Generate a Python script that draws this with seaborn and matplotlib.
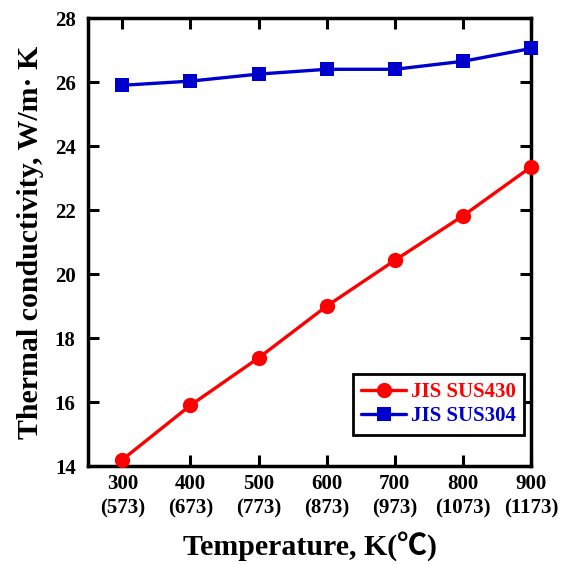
import matplotlib
matplotlib.use("Agg")
import matplotlib.pyplot as plt
import seaborn as sns
import pandas as pd

temps_K = [300, 400, 500, 600, 700, 800, 900]
temps_C = [573, 673, 773, 873, 973, 1073, 1173]
sus430 = [14.2, 15.9, 17.38, 19.0, 20.43, 21.82, 23.35]
sus304 = [25.9, 26.03, 26.25, 26.4, 26.4, 26.65, 27.05]
yticks = [14, 16, 18, 20, 22, 24, 26, 28]

sns.set_theme(style="ticks")
plt.rcParams['font.family'] = ['Liberation Serif', 'Noto Sans CJK JP', 'DejaVu Sans']
plt.rcParams['font.weight'] = 'bold'
plt.rcParams['text.color'] = 'black'
plt.rcParams['axes.labelcolor'] = 'black'

fig = plt.figure(figsize=(5.62, 5.65), dpi=100)
ax = fig.add_axes([0.157, 0.175, 0.788, 0.793])

df430 = pd.DataFrame({"T": temps_K, "k": sus430})
df304 = pd.DataFrame({"T": temps_K, "k": sus304})
sns.lineplot(data=df430, x="T", y="k", ax=ax, color="#ff0000", marker="o",
             markersize=11, markeredgewidth=0, linewidth=2.4, label="JIS SUS430", clip_on=False, zorder=3)
sns.lineplot(data=df304, x="T", y="k", ax=ax, color="#0000cc", marker="s",
             markersize=10.5, markeredgewidth=0, linewidth=2.4, label="JIS SUS304", clip_on=False, zorder=3)

ax.set_xlim(250, 900)
ax.set_ylim(14, 28)
ax.set_xticks(temps_K)
ax.set_xticklabels([f"{k}\n({c})" for k, c in zip(temps_K, temps_C)], fontsize=15,
                   fontweight='bold', linespacing=1.3)
ax.set_yticks(yticks)
ax.set_yticklabels([str(v) for v in yticks], fontsize=15, fontweight='bold')
ax.tick_params(direction='in', length=8, width=2.2, top=True, right=True, colors='black', pad=6)
ax.tick_params(axis='y', pad=9)
for s in ax.spines.values():
    s.set_linewidth(2.5)
    s.set_color('black')
    s.set_visible(True)

ax.set_xlabel("Temperature, K(℃)", fontsize=21.5, fontweight='bold', labelpad=9, color='black')
ax.set_ylabel("Thermal conductivity, W/m· K", fontsize=21.5, fontweight='bold', labelpad=8, color='black')

leg = ax.legend(loc='lower right', bbox_to_anchor=(0.985, 0.07), fontsize=15, frameon=True,
                fancybox=False, edgecolor='black', handlelength=2.15, handletextpad=0.25,
                borderpad=0.4, labelspacing=0.2, borderaxespad=0)
leg.get_frame().set_linewidth(2)
leg.get_frame().set_alpha(1)
for t, c in zip(leg.get_texts(), ["#ff0000", "#0000cc"]):
    t.set_color(c)
    t.set_fontweight('bold')

fig.savefig("out.png", dpi=100)
